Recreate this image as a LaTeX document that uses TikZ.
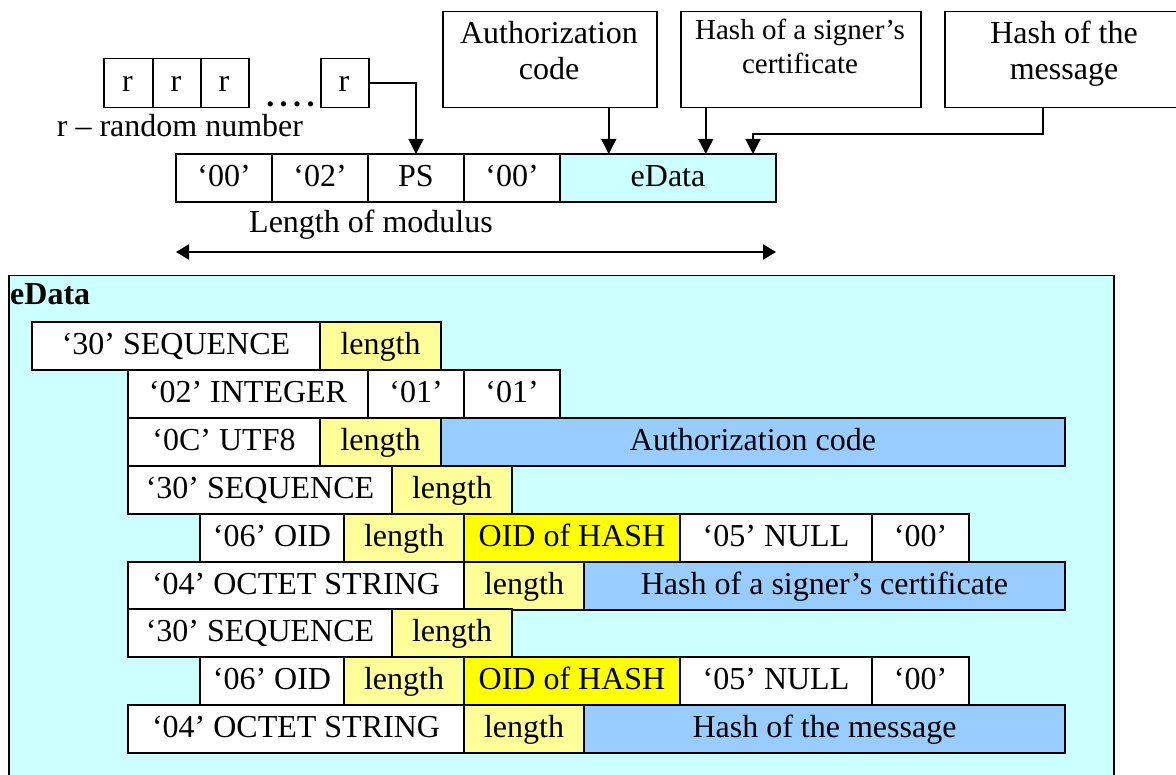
\documentclass[tikz,border=0pt]{standalone}
\usepackage{fontspec}
\setmainfont{Liberation Serif}
\usetikzlibrary{arrows.meta}
\definecolor{cya}{HTML}{CCFFFF}
\definecolor{lyel}{HTML}{FFFF99}
\definecolor{yel}{HTML}{FFFF00}
\definecolor{blu}{HTML}{99CCFF}
\tikzset{
  cell/.style={draw=black, line width=1.5pt, inner sep=0pt, outer sep=0pt, text height=23pt, text depth=6pt, anchor=north west},
  wcell/.style={cell, fill=white},
  lcell/.style={cell, fill=lyel},
  ycell/.style={cell, fill=yel},
  bcell/.style={cell, fill=blu},
  ccell/.style={cell, fill=cya},
  topbox/.style={draw=black, line width=1.5pt, fill=white, inner sep=0pt, anchor=north west},
  txt/.style={anchor=base, inner sep=0pt},
  arr/.style={line width=1.5pt, -{Triangle[length=15pt,width=15pt]}},
  darr/.style={line width=2pt, {Triangle[length=13pt,width=15pt]}-{Triangle[length=13pt,width=15pt]}},
}
\newcommand\cellbox[5]{\node[#4, minimum width=#3pt, minimum height=48pt] (#1) at (#2) {#5};}
\begin{document}
\begin{tikzpicture}[x=1pt, y=-1pt, font=\fontsize{32}{38}\selectfont]
\clip (0,0) rectangle (1176,775);
\fill[white] (0,0) rectangle (1176,775);

% random numbers
\node[topbox, minimum width=49pt, minimum height=49pt] (r1) at (103,58) {};
\node[topbox, minimum width=48pt, minimum height=49pt] (r2) at (152,58) {};
\node[topbox, minimum width=48pt, minimum height=49pt] (r3) at (200,58) {};
\node[topbox, minimum width=48pt, minimum height=49pt] (r4) at (320,58) {};
\node[txt] at (127.5,92) {r};
\node[txt] at (176,92) {r};
\node[txt] at (224,92) {r};
\node[txt] at (344,92) {r};
\node[txt] (dots) at (290.5,107) {\textbf{.\hspace{5.5pt}.\hspace{5.5pt}.\hspace{5.5pt}.}};
\node[txt] (rlabel) at (180,137) {r – random number};

% top boxes
\node[topbox, minimum width=214pt, minimum height=96pt] (auth) at (442,11) {};
\node[txt] at (549,44) {Authorization};
\node[txt] at (549,80) {code};
\node[topbox, minimum width=240pt, minimum height=96pt] (hcert) at (680,11) {};
\node[txt, font=\fontsize{29}{34}\selectfont] at (800,40) {Hash of a signer’s};
\node[txt, font=\fontsize{29}{34}\selectfont] at (800,74) {certificate};
\node[topbox, minimum width=245pt, minimum height=96pt] (hmsg) at (944,11) {};
\node[txt] at (1064,44) {Hash of the};
\node[txt] at (1064,80) {message};

% PKCS row
\cellbox{p00a}{176,154}{96}{wcell}{‘00’}
\cellbox{p02}{272,154}{96}{wcell}{‘02’}
\cellbox{pPS}{368,154}{96}{wcell}{PS}
\cellbox{p00b}{464,154}{96}{wcell}{‘00’}
\cellbox{peData}{560,154}{216}{ccell}{eData}
\node[txt] (lenmod) at (371,233) {Length of modulus};
\coordinate (lmL) at (176,252);
\coordinate (lmR) at (776,252);
\draw[darr] (lmL) -- (lmR);

% connectors
\draw[arr] (r4.east) -| (pPS.north);
\draw[arr] ([xshift=59pt]auth.south) -- ([xshift=59pt]auth.south |- peData.north);
\draw[arr] ([xshift=-95pt]hcert.south) -- ([xshift=-95pt]hcert.south |- peData.north);
\coordinate (mbend) at (753,134);
\draw[arr] ([xshift=-24.5pt]hmsg.south) |- (mbend) -- (mbend |- peData.north);

% eData frame
\node[topbox, fill=cya, minimum width=1105pt, minimum height=520pt] (edframe) at (8,275) {};
\node[anchor=base west, inner sep=0pt] (edlabel) at (10,305) {\textbf{eData}};

% rows
\cellbox{seq1}{32,322}{288}{wcell}{‘30’ SEQUENCE}
\cellbox{len1}{320,322}{121}{lcell}{length}

\cellbox{int}{128,370}{240}{wcell}{‘02’ INTEGER}
\cellbox{o1}{368,370}{96}{wcell}{‘01’}
\cellbox{o2}{464,370}{96}{wcell}{‘01’}

\cellbox{utf}{128,418}{192}{wcell}{‘0C’ UTF8}
\cellbox{len3}{320,418}{121}{lcell}{length}
\cellbox{authc}{441,418}{624}{bcell}{Authorization code}

\cellbox{seq2}{128,466}{264}{wcell}{‘30’ SEQUENCE}
\cellbox{len4}{392,466}{120}{lcell}{length}

\cellbox{oid1}{200,514}{144}{wcell}{‘06’ OID}
\cellbox{len5}{344,514}{120}{lcell}{length}
\cellbox{oh1}{464,514}{216}{ycell}{OID of HASH}
\cellbox{nul1}{680,514}{192}{wcell}{‘05’ NULL}
\cellbox{z1}{872,514}{97}{wcell}{‘00’}

\cellbox{oct1}{128,562}{336}{wcell}{‘04’ OCTET STRING}
\cellbox{len6}{464,562}{120}{lcell}{length}
\cellbox{hcertc}{584,562}{481}{bcell}{Hash of a signer’s certificate}

\cellbox{seq3}{128,609}{264}{wcell}{‘30’ SEQUENCE}
\cellbox{len7}{392,609}{120}{lcell}{length}

\cellbox{oid2}{200,657}{144}{wcell}{‘06’ OID}
\cellbox{len8}{344,657}{120}{lcell}{length}
\cellbox{oh2}{464,657}{216}{ycell}{OID of HASH}
\cellbox{nul2}{680,657}{192}{wcell}{‘05’ NULL}
\cellbox{z2}{872,657}{97}{wcell}{‘00’}

\cellbox{oct2}{128,705}{336}{wcell}{‘04’ OCTET STRING}
\cellbox{len9}{464,705}{120}{lcell}{length}
\cellbox{hmsgc}{584,705}{481}{bcell}{Hash of the message}
\end{tikzpicture}
\end{document}
